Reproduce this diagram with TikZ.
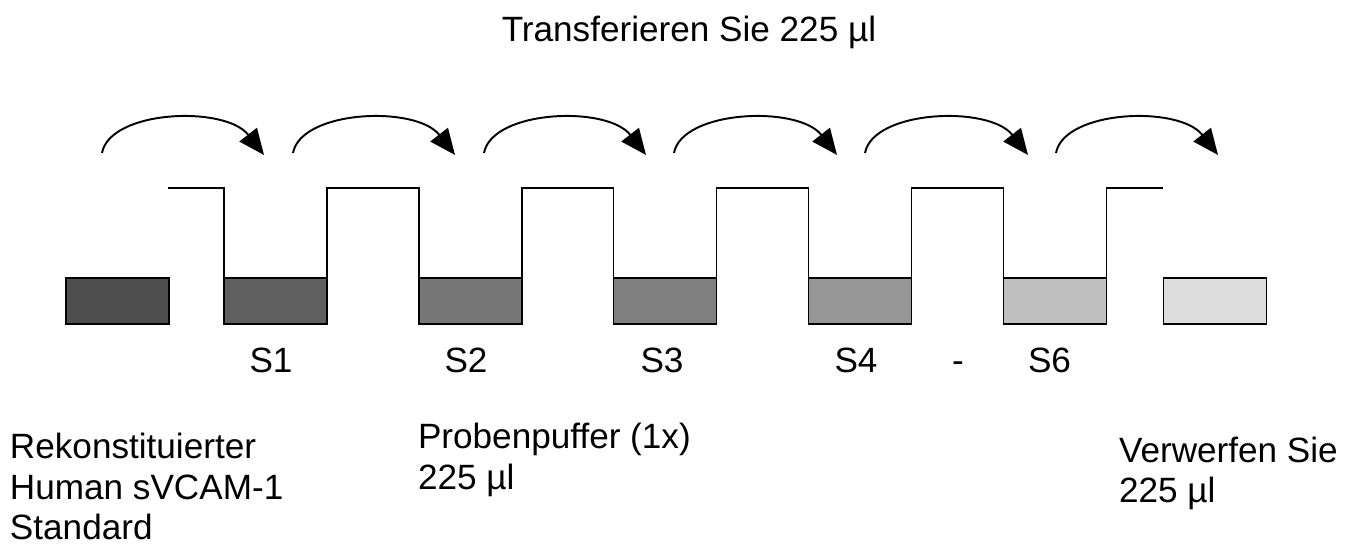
\documentclass[tikz,border=0pt]{standalone}
\usepackage{fontspec}
\setmainfont{Liberation Sans}
\usetikzlibrary{arrows.meta,calc}
\definecolor{g0}{HTML}{4D4D4D}
\definecolor{g1}{HTML}{5F5F5F}
\definecolor{g2}{HTML}{777777}
\definecolor{g3}{HTML}{808080}
\definecolor{g4}{HTML}{969696}
\definecolor{g5}{HTML}{C0C0C0}
\definecolor{g6}{HTML}{DDDDDD}
\begin{document}
\begin{tikzpicture}[x=0.02cm,y=-0.02cm,
  tube/.style={draw=black,line width=1.1pt,minimum width=2.06cm,minimum height=0.92cm,inner sep=0pt,outer sep=0pt},
  wave/.style={draw=black,line width=1.1pt,line join=miter},
  xfer/.style={draw=black,line width=1.1pt,-{Triangle[length=14.7pt,width=12.5pt]}},
  lbl/.style={inner sep=0pt,outer sep=0pt,font=\fontsize{20}{23}\selectfont}]
\useasboundingbox (0,0) rectangle (1363,546);
% tubes
\node[tube,fill=g0] (b0) at (117.5,301) {};
\node[tube,fill=g1] (b1) at (275.5,301) {};
\node[tube,fill=g2] (b2) at (470.5,301) {};
\node[tube,fill=g3] (b3) at (665,301) {};
\node[tube,fill=g4] (b4) at (860,301) {};
\node[tube,fill=g5] (b5) at (1055,301) {};
\node[tube,fill=g6] (b6) at (1215,301) {};
% wave line
\coordinate (w0) at (168,188);
\coordinate (w1) at (1163,188);
\draw[wave] (w0) -- (w0 -| b1.north west) -- (b1.north west) -- (b1.north east)
  -- (b1.north east |- w0) -- (w0 -| b2.north west) -- (b2.north west) -- (b2.north east)
  -- (b2.north east |- w0) -- (w0 -| b3.north west) -- (b3.north west) -- (b3.north east)
  -- (b3.north east |- w0) -- (w0 -| b4.north west) -- (b4.north west) -- (b4.north east)
  -- (b4.north east |- w0) -- (w0 -| b5.north west) -- (b5.north west) -- (b5.north east)
  -- (b5.north east |- w0) -- (w1);
% transfer arrows
\foreach \i/\s/\e in {1/102/264,2/293/455,3/484/646,4/674/837,5/865/1028,6/1056/1218}{
  \coordinate (a\i s) at (\s,153);
  \coordinate (a\i e) at (\e,155);
  \draw[xfer] (a\i s) .. controls ($(a\i s)+(8,-43)$) and ($(a\i e)+(-39,-50)$) .. (a\i e);
}
% texts
\node[lbl,anchor=base] (title) at (689,42) {Transferieren Sie 225 µl};
\node[lbl,anchor=base] (s1) at (271,373) {S1};
\node[lbl,anchor=base] (s2) at (466,373) {S2};
\node[lbl,anchor=base] (s3) at (662,373) {S3};
\node[lbl,anchor=base] (s4) at (856,373) {S4};
\node[lbl,anchor=base] (dash) at (958,373) {-};
\node[lbl,anchor=base] (s6) at (1049.5,373) {S6};
\node[lbl,anchor=base west] (r1) at (10,459) {Rekonstituierter};
\node[lbl,anchor=base west] (r2) at (10,500) {Human sVCAM-1};
\node[lbl,anchor=base west] (r3) at (10,540) {Standard};
\node[lbl,anchor=base west] (p1) at (418,449) {Probenpuffer (1x)};
\node[lbl,anchor=base west] (p2) at (418,490) {225 µl};
\node[lbl,anchor=base west] (v1) at (1119,463) {Verwerfen Sie};
\node[lbl,anchor=base west] (v2) at (1119,503) {225 µl};
\end{tikzpicture}
\end{document}
